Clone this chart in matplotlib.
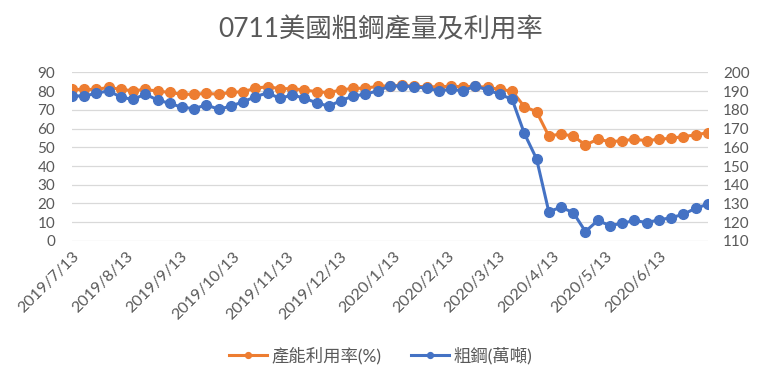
import matplotlib
matplotlib.use("Agg")
import matplotlib.pyplot as plt
import matplotlib.dates as mdates
import numpy as np
import pandas as pd

plt.rcParams['font.family'] = ['Lato', 'Noto Sans CJK TC', 'DejaVu Sans']

title = "0711美國粗鋼產量及利用率"
series1_name = "產能利用率(%)"
series2_name = "粗鋼(萬噸)"

dates = pd.date_range("2019-07-13", periods=53, freq="7D")

utilization = [80.9, 80.9, 80.9, 82.0, 80.9, 80.2, 80.9, 80.0, 79.3, 78.3,
               78.3, 78.8, 78.3, 79.3, 79.7, 81.5, 82.4, 81.3, 81.3, 80.6,
               79.7, 79.2, 80.6, 81.5, 81.5, 82.6, 82.8, 83.1, 82.6, 82.3,
               82.3, 82.6, 82.3, 82.6, 82.0, 80.9, 80.0, 71.7, 69.0, 56.0,
               57.1, 56.0, 51.2, 54.3, 53.0, 53.5, 54.3, 53.5, 54.3, 54.8,
               55.7, 56.6, 57.8]

steel = [187.4, 187.4, 188.8, 190.2, 186.7, 185.6, 188.4, 185.2, 183.5, 181.3,
         180.7, 182.6, 180.3, 182.0, 184.3, 187.0, 189.1, 186.1, 187.9, 186.3,
         183.7, 182.0, 184.9, 187.4, 188.3, 190.2, 192.7, 192.7, 192.4, 191.5,
         190.2, 190.9, 190.2, 192.7, 190.6, 188.3, 185.6, 167.4, 153.8, 125.6,
         128.0, 125.1, 115.0, 120.9, 118.2, 119.4, 120.9, 119.8, 121.2, 122.4,
         124.2, 127.4, 129.6]

tick_dates = pd.date_range("2019-07-13", periods=12, freq=pd.DateOffset(months=1))
tick_labels = [f"{d.year}/{d.month}/{d.day}" for d in tick_dates]

left_ticks = list(range(0, 91, 10))
right_ticks = list(range(110, 201, 10))

orange = "#ED7D31"
blue = "#4472C4"
gray = "#595959"
grid = "#D9D9D9"

fig = plt.figure(figsize=(7.61, 3.83), dpi=100)
ax = fig.add_axes([0.0946, 0.371, 0.8354, 0.440])
ax2 = ax.twinx()

ax.plot(dates, utilization, color=orange, lw=2.2, marker='o', ms=7.0,
        label=series1_name, zorder=3)
ax2.plot(dates, steel, color=blue, lw=2.2, marker='o', ms=7.0,
         label=series2_name, zorder=3)

ax.set_xlim(dates[0], dates[-1])
ax.set_ylim(0, 90)
ax2.set_ylim(110, 200)
ax.set_yticks(left_ticks)
ax2.set_yticks(right_ticks)
ax.yaxis.grid(True, color=grid, lw=0.9)
ax.set_axisbelow(True)

for a in (ax, ax2):
    for s in a.spines.values():
        s.set_visible(False)
    a.tick_params(length=0, labelsize=11, labelcolor=gray)
ax.tick_params(axis='y', pad=12)
ax2.tick_params(axis='y', pad=11)

ax.set_xticks(mdates.date2num(tick_dates))
ax.set_xticklabels(tick_labels, rotation=45, ha='right', va='top',
                   rotation_mode='anchor', fontsize=11.5, color=gray)
ax.tick_params(axis='x', pad=6)

fig.text(0.5, 0.922, title, ha='center', va='center', fontsize=19, color=gray)

h1, l1 = ax.get_legend_handles_labels()
h2, l2 = ax2.get_legend_handles_labels()
fig.legend(h1 + h2, l1 + l2, loc='center', bbox_to_anchor=(0.5, 0.072),
           ncol=2, frameon=False, fontsize=12.5, labelcolor=gray,
           handlelength=2.2, markerscale=0.6, columnspacing=1.7, handletextpad=0.25)

fig.savefig("out.png", dpi=100)
